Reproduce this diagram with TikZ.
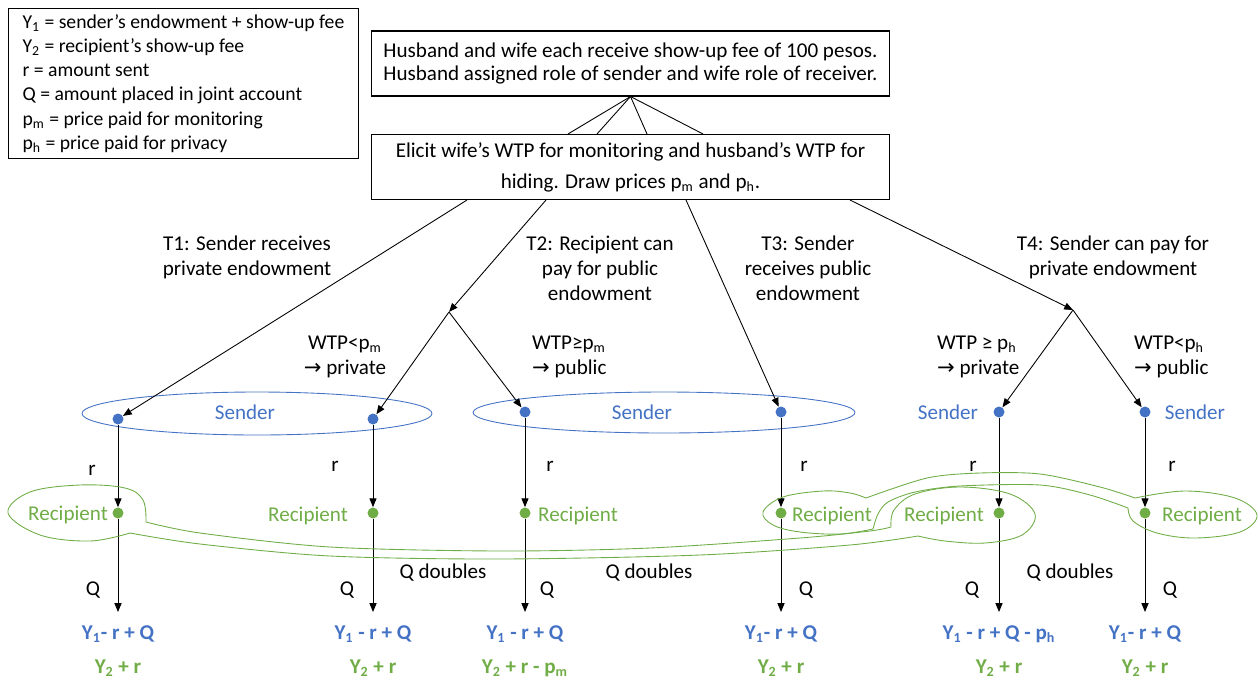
\documentclass[tikz,border=0pt]{standalone}
\usepackage{fontspec}
\setmainfont{Carlito}
\newfontfamily\arrowfont{DejaVu Sans}
\usetikzlibrary{arrows.meta}
\definecolor{sblue}{HTML}{4472C4}
\definecolor{rgreen}{HTML}{70AD47}

\begin{document}
\begin{tikzpicture}[x=0.02cm,y=-0.02cm,
  every node/.style={font=\fontsize{12}{14}\selectfont},
  box/.style={draw,line width=0.6pt,minimum width=10.38cm,minimum height=1.3cm,align=center},
  sdot/.style={circle,fill=sblue,inner sep=0pt,minimum size=0.22cm},
  rdot/.style={circle,fill=rgreen,inner sep=0pt,minimum size=0.22cm},
  arr/.style={-{Triangle[length=5pt,width=4pt]},line width=0.5pt},
  tlab/.style={align=center,font=\fontsize{12}{14.2}\selectfont},
  wlab/.style={font=\fontsize{12}{14.2}\selectfont},
  pay/.style={font=\fontsize{12}{14}\selectfont\bfseries}]
\useasboundingbox (0,0) rectangle (1260,683);

\node[draw,line width=0.6pt,anchor=north west,minimum width=7cm,minimum height=2.98cm,align=left,font=\fontsize{11.2}{13.8}\selectfont] (legend) at (8,8)
  {Y\textsubscript{1} = sender's endowment + show-up fee\\
   Y\textsubscript{2} = recipient's show-up fee\\
   r = amount sent\\
   Q = amount placed in joint account\\
   p\textsubscript{m} = price paid for monitoring\\
   p\textsubscript{h} = price paid for privacy};

\node[box,font=\fontsize{12}{13.2}\selectfont] (intro) at (630.5,63.5) {Husband and wife each receive show-up fee of 100 pesos.\\Husband assigned role of sender and wife role of receiver.};
\node[box,font=\fontsize{12}{17.6}\selectfont] (elicit) at (630.5,167) {Elicit wife's WTP for monitoring and husband's WTP for\\hiding. Draw prices p\textsubscript{m} and p\textsubscript{h}.};
\foreach \x in {568,597,647,703} {
	\draw[line width=0.5pt] (intro.south) -- (\x,0 |- elicit.north);
}

\draw[sblue,line width=0.5pt] (257,413.5) ellipse [x radius=3.5cm, y radius=0.43cm];
\draw[sblue,line width=0.5pt] (664,412.5) ellipse [x radius=3.82cm, y radius=0.41cm];

\foreach \i/\x/\y in {1/118/419,2/373/419,3/525/412,4/781/412,5/999/412,6/1145/412} {
	\node[sdot] (s\i) at (\x,\y) {};
	\node[rdot] (r\i) at (\x,513) {};
	\coordinate (e\i) at (\x,612);
	\draw[arr] (s\i) -- (r\i);
	\draw[arr] (r\i) -- (e\i);
}

\coordinate (b2) at (449,312);
\coordinate (b4) at (1073,310);
\draw[arr] (467,0 |- elicit.south) -- (s1);
\draw[arr] (546,0 |- elicit.south) -- (b2);
\draw[arr] (686,0 |- elicit.south) -- (s4);
\draw[arr] (850,0 |- elicit.south) -- (b4);
\draw[arr] (b2) -- (s2);
\draw[arr] (b2) -- (s3);
\draw[arr] (b4) -- (s5);
\draw[arr] (b4) -- (s6);

\node[tlab] (t1) at (247,257) {T1: Sender receives\\private endowment};
\node[tlab] (t2) at (600,268) {T2: Recipient can\\pay for public\\endowment};
\node[tlab] (t3) at (808,268) {T3: Sender\\receives public\\endowment};
\node[tlab] (t4) at (1113,257) {T4: Sender can pay for\\private endowment};

\node[wlab,align=center] (w1) at (345,357) {WTP<p\textsubscript{m}\\{\arrowfont →} private};
\node[wlab,align=left,anchor=west] (w2) at (526,357) {WTP≥p\textsubscript{m}\\{\arrowfont →} public};
\node[wlab,align=left,anchor=west] (w3) at (931,357) {WTP ≥ p\textsubscript{h}\\{\arrowfont →} private};
\node[wlab,align=left,anchor=west] (w4) at (1128,357) {WTP<p\textsubscript{h}\\{\arrowfont →} public};

\draw (245,412) node[text=sblue] (sl1) {Sender} (642,412) node[text=sblue] (sl2) {Sender}
  (948,412) node[text=sblue] (sl3) {Sender} (1195,412) node[text=sblue] (sl4) {Sender};
\draw (68,515) node[text=rgreen] (rl1) {Recipient} (308,516) node[text=rgreen] (rl2) {Recipient}
  (578,516) node[text=rgreen] (rl3) {Recipient} (832,516) node[text=rgreen] (rl4) {Recipient}
  (944,516) node[text=rgreen] (rl5) {Recipient} (1202,516) node[text=rgreen] (rl6) {Recipient};

\draw (92,470) node (rr1) {r} (335,466) node (rr2) {r} (550,466) node (rr3) {r}
  (804,466) node (rr4) {r} (973,466) node (rr5) {r} (1172,466) node (rr6) {r};
\draw (93,590) node (q1) {Q} (347,590) node (q2) {Q} (547,590) node (q3) {Q}
  (806,590) node (q4) {Q} (972,590) node (q5) {Q} (1170,590) node (q6) {Q};
\draw (443,573) node (qd1) {Q doubles} (649,573) node (qd2) {Q doubles} (1070,573) node (qd3) {Q doubles};

\draw (118,634) node[pay,text=sblue] (y11) {Y\textsubscript{1}- r + Q} (118,668) node[pay,text=rgreen] (y21) {Y\textsubscript{2} + r};
\draw (373,634) node[pay,text=sblue] (y12) {Y\textsubscript{1} - r + Q} (373,668) node[pay,text=rgreen] (y22) {Y\textsubscript{2} + r};
\draw (525,634) node[pay,text=sblue] (y13) {Y\textsubscript{1} - r + Q} (525,668) node[pay,text=rgreen] (y23) {Y\textsubscript{2} + r - p\textsubscript{m}};
\draw (781,634) node[pay,text=sblue] (y14) {Y\textsubscript{1}- r + Q} (781,668) node[pay,text=rgreen] (y24) {Y\textsubscript{2} + r};
\draw (999,634) node[pay,text=sblue] (y15) {Y\textsubscript{1} - r + Q - p\textsubscript{h}} (999,668) node[pay,text=rgreen] (y25) {Y\textsubscript{2} + r};
\draw (1145,634) node[pay,text=sblue] (y16) {Y\textsubscript{1}- r + Q} (1145,668) node[pay,text=rgreen] (y26) {Y\textsubscript{2} + r};

\draw[rgreen,line width=0.5pt] plot[smooth,tension=0.6] coordinates {(146,522) (143,500) (125,488) (80,485) (30,492) (8,513) (40,535) (90,541) (130,533)}
  -- plot[smooth,tension=0.5] coordinates {(130,533) (200,544) (330,556) (500,559) (700,555) (850,545) (918,536)}
  -- plot[smooth,tension=0.6] coordinates {(918,536) (945,541) (985,543) (1022,535) (1035,514) (1010,494) (960,487) (915,494) (894,510) (891,527)}
  -- plot[smooth,tension=0.5] coordinates {(891,527) (870,531) (800,538) (650,548) (500,551) (330,547) (200,533) (146,522)} -- cycle;
\draw[rgreen,line width=0.5pt] plot[smooth,tension=0.6] coordinates {(866,498) (850,493) (823,491) (783,497) (763,512) (773,525) (800,532) (840,534) (873,529)}
  -- plot[smooth,tension=0.5] coordinates {(873,529) (878,514) (888,502) (915,492) (960,486) (1040,485) (1090,495) (1128,508)}
  -- plot[smooth,tension=0.6] coordinates {(1128,508) (1133,521) (1157,533) (1195,538) (1240,532) (1257,515) (1235,498) (1185,491) (1135,498)}
  -- plot[smooth,tension=0.5] coordinates {(1135,498) (1100,487) (1040,474) (980,473) (927,478) (866,498)} -- cycle;
\end{tikzpicture}
\end{document}
